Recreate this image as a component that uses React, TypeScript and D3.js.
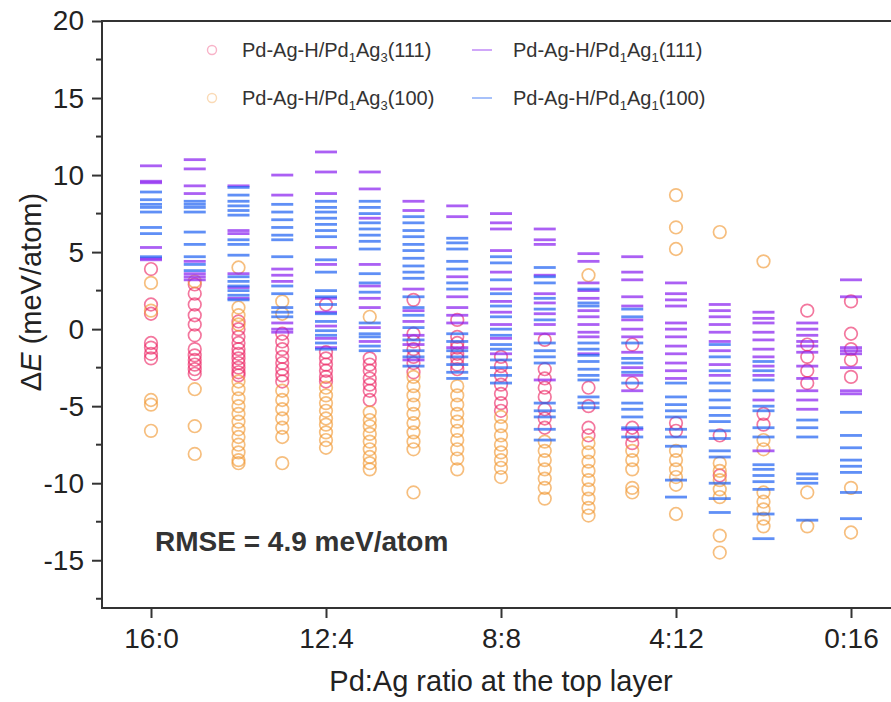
import React, { useRef, useEffect } from "react";
import * as d3 from "d3";

// Pd:Ag ratio at the top layer (x categories)
const categories = [
  "16:0", "15:1", "14:2", "13:3", "12:4", "11:5", "10:6", "9:7", "8:8",
  "7:9", "6:10", "5:11", "4:12", "3:13", "2:14", "1:15", "0:16",
];
const xTickLabels = ["16:0", "12:4", "8:8", "4:12", "0:16"];
const yTicks = [-15, -10, -5, 0, 5, 10, 15, 20];
const yMinorTicks = [-17.5, -12.5, -7.5, -2.5, 2.5, 7.5, 12.5, 17.5];

// ΔE (meV/atom) per category
const pd1ag3_111 = [
  [3.9, 1.6, 1.0, -0.9, -1.2, -1.6, -1.9],
  [2.9, 2.3, 1.6, 0.9, 0.3, -0.4, -1.3, -1.7, -2.0, -2.3, -2.6, -2.9],
  [0.5, 0.0, -0.5, -0.9, -1.3, -1.6, -1.9, -2.2, -2.5, -2.8, -3.0],
  [-0.3, -0.8, -1.3, -1.8, -2.2, -2.6, -3.0, -3.4],
  [1.6, -1.5, -1.9, -2.3, -2.7, -3.1, -3.4],
  [-1.9, -2.3, -2.7, -3.2, -3.6, -4.0, -4.6],
  [1.9, -0.3, -0.8, -1.3, -1.8, -2.2, -2.8],
  [0.6, -0.5, -0.9, -1.2, -1.6, -1.9, -2.3, -2.6],
  [-1.8, -2.4, -3.0, -3.6, -4.2, -4.8, -5.3],
  [-0.7, -2.6, -3.2, -3.8, -4.4, -5.2, -5.8, -6.4],
  [-3.8, -5.0, -6.4, -6.9],
  [-1.0, -3.5, -6.4, -6.9, -7.4],
  [-6.1, -6.6],
  [-6.9, -9.5],
  [-5.5, -6.2],
  [1.2, -1.0, -1.8, -2.7, -3.5],
  [1.8, -0.3, -1.3, -2.0, -3.1],
];
const pd1ag3_100 = [
  [3.0, 1.2, -4.6, -4.9, -6.6],
  [3.1, -3.9, -6.3, -8.1],
  [4.0, 1.4, 0.9, 0.3, -3.4, -3.9, -4.5, -5.0, -5.5, -6.0, -6.5, -7.0, -7.5, -8.0, -8.5, -8.7],
  [1.8, 1.0, -4.0, -4.6, -5.2, -5.8, -6.4, -7.0, -8.7],
  [-3.8, -4.3, -4.8, -5.3, -5.8, -6.2, -6.7, -7.2, -7.7],
  [0.8, -5.4, -5.9, -6.3, -6.8, -7.3, -7.8, -8.3, -8.7, -9.1],
  [-3.1, -3.7, -4.3, -4.9, -5.5, -6.1, -6.7, -7.3, -7.8, -10.6],
  [-3.7, -4.3, -4.9, -5.5, -6.0, -6.6, -7.2, -7.8, -8.4, -9.1],
  [-5.7, -6.3, -6.9, -7.5, -8.0, -8.5, -9.0, -9.6],
  [-7.3, -7.9, -8.5, -9.1, -9.7, -10.3, -11.0],
  [3.5, -7.4, -8.0, -8.6, -9.2, -9.8, -10.4, -11.0, -11.6, -12.1],
  [-7.9, -8.5, -9.1, -10.3, -10.6],
  [8.7, 6.6, 5.2, -7.9, -8.5, -9.1, -9.6, -10.1, -12.0],
  [6.3, -8.7, -9.2, -9.8, -10.4, -10.9, -13.4, -14.5],
  [4.4, -7.2, -7.8, -10.6, -11.2, -11.7, -12.3, -12.8],
  [-10.6, -12.8],
  [-10.3, -13.2],
];
const pd1ag1_111 = [
  [10.6, 9.6, 9.5, 5.3, 4.6, 4.5],
  [11.0, 10.4, 9.3, 8.8, 4.4, 3.6, 3.4, 3.2],
  [9.3, 6.4, 6.2, 3.6, 2.7, 2.0],
  [10.0, 8.7, 3.9, 3.5, 3.1, 0.4, 0.0, -0.2],
  [11.5, 10.2, 8.8, 5.3, 4.2, 2.0, 1.1, 0.2, -0.6, -1.2],
  [10.2, 9.1, 7.2, 4.2, 2.8, 2.0, 1.4, 0.1, -0.8],
  [8.3, 7.7, 2.6, 1.2, 0.5, -0.4, -1.0, -2.0],
  [8.0, 7.3, 3.4, 2.1, 1.4, 0.9, 0.4, -1.2],
  [7.5, 6.9, 6.5, 5.1, 3.7, 2.6, 1.8, 1.1, 0.3, -0.6, -1.6],
  [6.5, 5.8, 5.5, 3.5, 2.3, 1.7, 1.0, 0.3, -0.3, -3.3],
  [4.9, 4.4, 3.0, 2.5, 2.0, 1.2, 0.8, 0.3, -0.2, -0.5, -1.6],
  [4.7, 3.7, 3.2, 2.1, 1.5, 0.6, 0.0, -0.5, -1.5, -2.5, -3.0, -4.0, -6.5],
  [3.0, 2.3, 1.9, 1.5, 0.4, 0.0, -0.5, -1.1, -1.6, -2.2, -2.7, -3.2],
  [1.6, 1.2, 0.8, 0.3, -0.2, -0.8, -1.4, -2.3, -3.0],
  [1.1, 0.7, 0.4, -0.2, -0.7, -1.3, -1.8, -2.4, -3.0, -4.6, -7.9],
  [0.4, 0.0, -0.4, -0.8, -1.1, -1.5, -2.4, -3.2, -4.0, -4.6, -5.2],
  [3.2, 2.1, -1.2, -1.4, -1.6, -2.5, -4.0, -4.2],
];
const pd1ag1_100 = [
  [8.9, 8.4, 8.1, 7.9, 7.6, 6.6, 6.2, 4.7],
  [8.3, 8.1, 7.9, 7.6, 6.3, 5.5, 4.7, 4.2, 3.8],
  [9.2, 8.7, 8.3, 8.0, 7.7, 7.4, 5.8, 5.5, 4.8, 3.4, 3.1, 2.8, 2.5, 2.2, 1.9],
  [8.1, 7.6, 7.1, 6.6, 6.1, 5.8, 4.7, 2.8, 2.3, 1.4, 1.1, 0.8],
  [8.3, 7.9, 7.6, 7.2, 6.8, 6.4, 6.0, 4.5, 3.7, 2.5, 2.1, 1.6, 1.0, 0.5, -0.1, -0.4, -0.9, -1.3],
  [8.3, 7.9, 7.5, 6.9, 6.5, 6.1, 5.7, 5.2, 3.6, 3.0, 2.4, 0.4, -0.3, -0.5, -1.1, -1.4],
  [7.3, 6.9, 6.4, 6.0, 5.5, 5.1, 4.6, 4.1, 3.7, 3.3, 2.1, 1.4, 0.9, 0.1, -0.7, -1.4, -1.8, -2.4],
  [5.9, 5.6, 5.2, 4.4, 3.9, 3.0, 2.6, -0.3, -0.8, -1.4, -1.8, -2.3, -2.8, -3.2],
  [4.7, 4.3, 3.2, 2.3, 1.5, 0.8, 0.0, -0.4, -1.0, -1.3, -2.0, -2.5, -3.0, -3.5],
  [4.0, 3.4, 3.0, 2.0, 1.3, 0.6, -0.9, -1.4, -1.8, -2.2, -4.8, -5.3, -5.7, -6.5, -7.2],
  [2.6, 1.7, 1.5, -0.9, -1.3, -1.7, -2.1, -2.6, -3.0, -3.3, -4.4, -4.8, -5.1],
  [1.3, 0.8, -0.9, -1.9, -2.2, -2.8, -3.5, -4.8, -5.2, -5.7, -6.4, -7.0],
  [-3.5, -4.4, -4.9, -5.3, -5.7, -6.5, -7.0, -7.6, -9.8, -10.9],
  [-1.0, -1.8, -2.7, -3.5, -4.0, -4.6, -5.1, -5.6, -6.0, -6.6, -7.1, -7.9, -8.3, -10.0, -11.0, -11.9],
  [-2.1, -2.7, -3.3, -4.0, -5.0, -5.3, -6.4, -7.0, -8.8, -9.1, -9.5, -9.9, -10.4, -12.0, -13.6],
  [-5.9, -6.4, -7.0, -9.4, -9.7, -10.0, -12.4],
  [-5.4, -6.9, -7.7, -8.5, -8.9, -9.3, -10.6, -12.3],
];

const FONT = "'Liberation Sans', Arial, Helvetica, sans-serif";

type Series = { name: string; sub: [string, string]; facet: string; values: number[][]; color: string; shape: "circle" | "dash" };

const series: Series[] = [
  { name: "Pd-Ag-H/Pd", sub: ["1", "3"], facet: "(111)", values: pd1ag3_111, color: "#ec2462", shape: "circle" },
  { name: "Pd-Ag-H/Pd", sub: ["1", "3"], facet: "(100)", values: pd1ag3_100, color: "#f0962e", shape: "circle" },
  { name: "Pd-Ag-H/Pd", sub: ["1", "1"], facet: "(111)", values: pd1ag1_111, color: "#8a22f0", shape: "dash" },
  { name: "Pd-Ag-H/Pd", sub: ["1", "1"], facet: "(100)", values: pd1ag1_100, color: "#2264f2", shape: "dash" },
];

export default function App() {
  const svgRef = useRef<SVGSVGElement>(null);
  const width = 891;
  const height = 702;
  const left = 102, right = 900, top = 21, bottom = 608;

  useEffect(() => {
    const svg = d3.select(svgRef.current);
    svg.selectAll("*").remove();

    const x = d3.scaleLinear().domain([-1.12, 17.12]).range([left, right]);
    const y = d3.scaleLinear().domain([-18.1, 20]).range([bottom, top]);

    // markers
    series.forEach((s) => {
      const pts = s.values.flatMap((vals, i) => vals.map((v) => ({ cat: categories[i], v })));
      const g = svg.append("g");
      if (s.shape === "circle") {
        g.selectAll("circle").data(pts).join("circle")
          .attr("cx", (d) => x(categories.indexOf(d.cat)))
          .attr("cy", (d) => y(d.v))
          .attr("r", 6.3)
          .attr("fill", "none")
          .attr("stroke", s.color)
          .attr("stroke-width", 1.7)
          .attr("stroke-opacity", 0.62);
      } else {
        g.selectAll("line").data(pts).join("line")
          .attr("x1", (d) => x(categories.indexOf(d.cat)) - 11)
          .attr("x2", (d) => x(categories.indexOf(d.cat)) + 11)
          .attr("y1", (d) => y(d.v))
          .attr("y2", (d) => y(d.v))
          .attr("stroke", s.color)
          .attr("stroke-width", 2.8)
          .attr("stroke-opacity", 0.72);
      }
    });

    // frame
    const frame = svg.append("g").attr("stroke", "#333").attr("stroke-width", 2).attr("fill", "none");
    frame.append("rect").attr("x", left).attr("y", top).attr("width", right - left).attr("height", bottom - top);

    // y axis
    const yAxis = d3.axisLeft(y).tickValues(yTicks).tickSize(10).tickPadding(8).tickFormat((d) => String(d));
    const ya = svg.append("g").attr("transform", `translate(${left},0)`).call(yAxis);
    ya.select(".domain").remove();
    ya.selectAll("line").attr("stroke", "#333").attr("stroke-width", 2);
    ya.selectAll("text").attr("font-family", FONT).attr("font-size", 28).attr("fill", "#222");
    svg.append("g").selectAll("line").data(yMinorTicks).join("line")
      .attr("x1", left - 6).attr("x2", left)
      .attr("y1", (d) => y(d)).attr("y2", (d) => y(d))
      .attr("stroke", "#333").attr("stroke-width", 2);

    // x axis
    const xAxis = d3.axisBottom(x)
      .tickValues(xTickLabels.map((c) => categories.indexOf(c)))
      .tickFormat((d) => categories[d as number])
      .tickSize(10).tickPadding(10);
    const xa = svg.append("g").attr("transform", `translate(0,${bottom})`).call(xAxis);
    xa.select(".domain").remove();
    xa.selectAll("line").attr("stroke", "#333").attr("stroke-width", 2);
    xa.selectAll("text").attr("font-family", FONT).attr("font-size", 28).attr("fill", "#222");

    // axis titles
    svg.append("text")
      .attr("x", (left + right) / 2).attr("y", 691)
      .attr("text-anchor", "middle").attr("font-family", FONT).attr("font-size", 29).attr("fill", "#222")
      .text("Pd:Ag ratio at the top layer");
    const yt = svg.append("text")
      .attr("transform", `translate(41,292) rotate(-90)`)
      .attr("text-anchor", "middle").attr("font-family", FONT).attr("font-size", 29).attr("fill", "#222");
    yt.append("tspan").text("\u0394");
    yt.append("tspan").attr("font-style", "italic").text("E");
    yt.append("tspan").text(" (meV/atom)");

    // RMSE annotation
    svg.append("text")
      .attr("x", 155).attr("y", 551)
      .attr("font-family", FONT).attr("font-size", 28).attr("font-weight", "bold").attr("fill", "#333")
      .text("RMSE = 4.9 meV/atom");

    // legend
    const legendPos = [
      { sx: 212, tx: 242, cy: 50 },
      { sx: 212, tx: 242, cy: 98 },
      { sx: 482, tx: 513, cy: 50 },
      { sx: 482, tx: 513, cy: 98 },
    ];
    series.forEach((s, i) => {
      const p = legendPos[i];
      const lg = svg.append("g");
      if (s.shape === "circle") {
        lg.append("circle").attr("cx", p.sx).attr("cy", p.cy).attr("r", 4.5)
          .attr("fill", "none").attr("stroke", s.color).attr("stroke-width", 1.4).attr("stroke-opacity", 0.35);
      } else {
        lg.append("line").attr("x1", p.sx - 10).attr("x2", p.sx + 10).attr("y1", p.cy).attr("y2", p.cy)
          .attr("stroke", s.color).attr("stroke-width", 2).attr("stroke-opacity", 0.4);
      }
      const t = lg.append("text").attr("x", p.tx).attr("y", p.cy + 7)
        .attr("font-family", FONT).attr("font-size", 20).attr("fill", "#333");
      t.append("tspan").text(s.name);
      t.append("tspan").attr("font-size", 13).attr("dy", 5).text(s.sub[0]);
      t.append("tspan").attr("dy", -5).text("Ag");
      t.append("tspan").attr("font-size", 13).attr("dy", 5).text(s.sub[1]);
      t.append("tspan").attr("dy", -5).text(s.facet);
    });
  }, []);

  return (
    <div style={{ position: "absolute", left: 0, top: 0 }}>
      <svg ref={svgRef} width={width} height={height} style={{ display: "block", background: "#fff" }} />
    </div>
  );
}
